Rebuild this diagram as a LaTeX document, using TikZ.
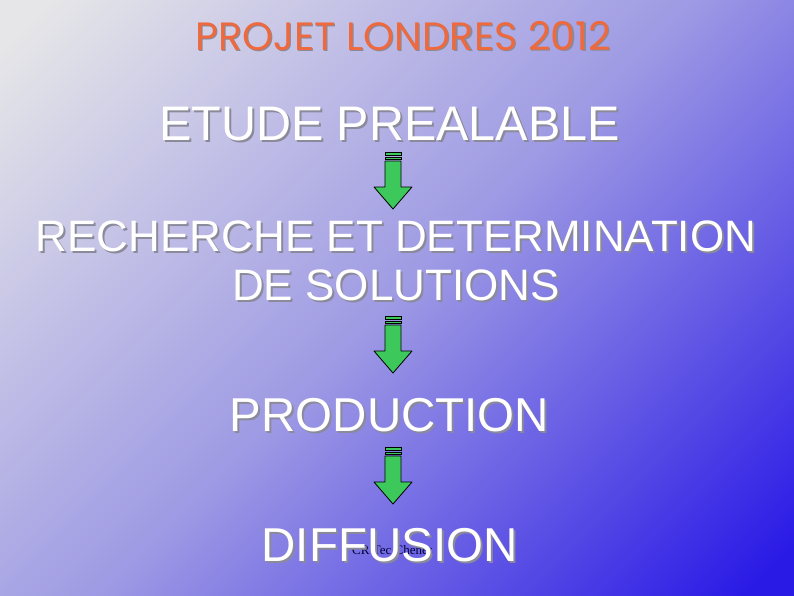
\documentclass[tikz,border=0pt]{standalone}
\usepackage{fontspec}
\setmainfont{Liberation Sans}
\newfontfamily\titrefont{Poppins}
\newfontfamily\petitefont{Liberation Serif}
\usetikzlibrary{positioning}

\definecolor{fondclair}{HTML}{E6E6E8}
\definecolor{fondmilieu}{HTML}{9E9AE4}
\definecolor{fondbleu}{HTML}{2A1AE6}
\definecolor{orangetitre}{HTML}{EE6A3E}
\definecolor{ombregris}{HTML}{8A8A9A}
\definecolor{vertfleche}{HTML}{3CC85A}

\pgfdeclarehorizontalshading{fondpres}{100bp}{color(0bp)=(fondclair); color(17bp)=(fondclair); color(50bp)=(fondmilieu); color(83bp)=(fondbleu); color(100bp)=(fondbleu)}

% texte avec ombre portee
\newcommand\ombrage[1]{\rlap{\kern2pt\raisebox{-2pt}{\textcolor{ombregris}{#1}}}#1}

\tikzset{
  etape/.style={anchor=base, inner sep=0pt, text=white},
  fleche/.pic={
    \draw [fill=vertfleche, line width=0.8pt] (-8,0) rectangle (8,3);
    \draw [fill=vertfleche, line width=0.8pt] (-8,5) rectangle (8,7);
    \draw [fill=vertfleche, line width=0.8pt, line join=round] (-8,9) -- (-8,35) -- (-19,35) -- (0,57) -- (19,35) -- (8,35) -- (8,9) -- cycle;
  }
}

\begin{document}
\begin{tikzpicture}[x=1pt, y=-1pt]
   \useasboundingbox (0,0) rectangle (794,595);
   \shade [shading=fondpres, shading angle=-45] (0,0) rectangle (794,595);

   \node (titre) [anchor=base, inner sep=0pt] at (403,50) {\fontsize{39.5}{42}\titrefont\rlap{\kern1.5pt\raisebox{-1.5pt}{\textcolor{ombregris}{PROJET LONDRES 2012}}}\textcolor{orangetitre}{PROJET LONDRES 2012}};

   \node (etude) [etape] at (389.5,140) {\fontsize{48.5}{50}\selectfont\ombrage{ETUDE PREALABLE}};
   \node (recherche) [etape] at (396,251) {\fontsize{44}{46}\selectfont\ombrage{RECHERCHE ET DETERMINATION}};
   \node (solutions) [etape] at (396,300) {\fontsize{44}{46}\selectfont\ombrage{DE SOLUTIONS}};
   \node (production) [etape] at (389.5,431) {\fontsize{47.5}{50}\selectfont\ombrage{PRODUCTION}};
   \node (auteur) [anchor=base west, inner sep=0pt, text=black!80!blue] at (352,554) {\fontsize{13}{14}\petitefont CR Tec Chenes};
   \node (diffusion) [etape] at (389.5,561) {\fontsize{47.5}{50}\selectfont\ombrage{DIFFUSION}};

   \pic at (393,152) {fleche};
   \pic at (393,316) {fleche};
   \pic at (393,447) {fleche};
\end{tikzpicture}
\end{document}
